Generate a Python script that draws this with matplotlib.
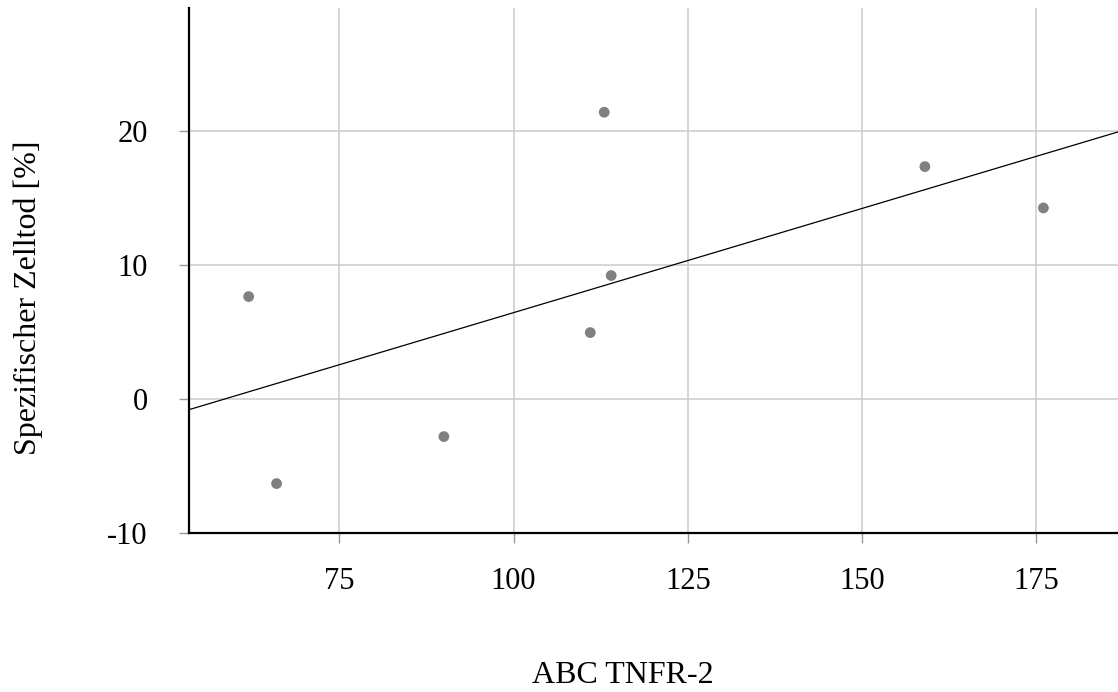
import matplotlib
matplotlib.use("Agg")
import matplotlib.pyplot as plt
import numpy as np

# values
tnfr2 = [62.0, 66.0, 90.0, 111.0, 113.0, 114.0, 159.0, 176.0]
zelltod = [7.64, -6.33, -2.82, 4.95, 21.41, 9.21, 17.35, 14.26]

# regression line as drawn in the reference (estimated)
fit_slope = 0.1557
fit_intercept = -9.13

x_ticks = [75, 100, 125, 150, 175]
y_ticks = [-10, 0, 10, 20]
x_range = (53.4, 186.7)
y_range = (-10, 29.2)

plt.rcParams["font.family"] = ["Liberation Serif", "DejaVu Serif"]
plt.rcParams["axes.unicode_minus"] = False

fig = plt.figure(figsize=(11.18, 6.92), dpi=100)
ax = fig.add_axes([0.1688, 0.2302, 1 - 0.1688, 0.9885 - 0.2302])

ax.set_xlim(*x_range)
ax.set_ylim(*y_range)
ax.set_xticks(x_ticks)
ax.set_yticks(y_ticks)
ax.set_xticklabels([str(t) for t in x_ticks])
ax.set_yticklabels([str(t) for t in y_ticks])

ax.grid(True, color="#cccccc", linewidth=1.1)
ax.set_axisbelow(True)

for side in ["top", "right"]:
    ax.spines[side].set_visible(False)
for side in ["left", "bottom"]:
    ax.spines[side].set_color("black")
    ax.spines[side].set_linewidth(1.6)

ax.tick_params(axis="both", labelsize=22, color="#999999", length=7.5, width=1)
ax.tick_params(axis="x", pad=17)
ax.tick_params(axis="y", pad=22)

fit_x = np.array(x_range)
ax.plot(fit_x, fit_slope * fit_x + fit_intercept, color="black", linewidth=0.9, zorder=3)

ax.scatter(tnfr2, zelltod, s=60, color="#808080", edgecolors="none", zorder=4, clip_on=False)

ax.set_xlabel("ABC TNFR-2", fontsize=23)
ax.set_ylabel("Spezifischer Zelltod [%]", fontsize=23)
ax.xaxis.set_label_coords((622.5 - 188.7) / (1118 - 188.7), -(675 - 532.7) / (532.7 - 8))
ax.yaxis.set_label_coords(-(188.7 - 28) / (1118 - 188.7), (532.7 - 298) / (532.7 - 8))
ax.xaxis.label.set_va("center")
ax.yaxis.label.set_va("center")

fig.savefig("out.png", dpi=100)
